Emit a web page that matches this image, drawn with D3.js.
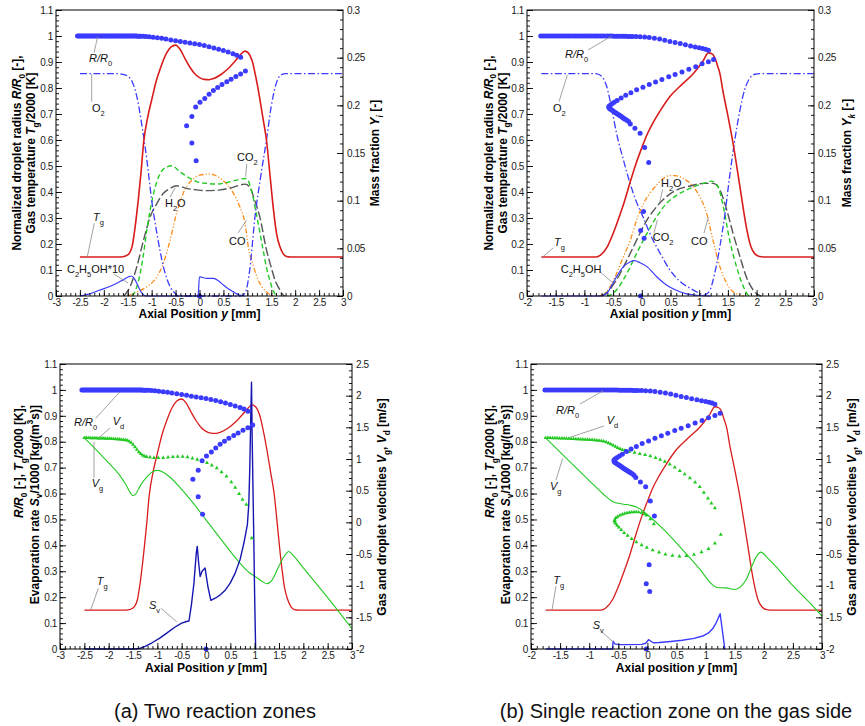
<!DOCTYPE html>
<html>
<head>
<meta charset="utf-8">
<script src="https://cdn.jsdelivr.net/npm/d3@7"></script>
<style>
  body { margin: 0; background: #fff; }
  svg { display: block; }
  text { font-family: "Liberation Sans", Arial, Helvetica, sans-serif; }
</style>
</head>
<body>
<svg id="fig" width="865" height="726"></svg>
<script>
// ---------- tick values and labels ----------
const xTicksA = [-3, -2.5, -2, -1.5, -1, -0.5, 0, 0.5, 1, 1.5, 2, 2.5, 3];
const xTickLabelsA = ["-3", "-2.5", "-2", "-1.5", "-1", "-0.5", "0", "0.5", "1", "1.5", "2", "2.5", "3"];
const xTicksB = [-2, -1.5, -1, -0.5, 0, 0.5, 1, 1.5, 2, 2.5, 3];
const xTickLabelsB = ["-2", "-1.5", "-1", "-0.5", "0", "0.5", "1", "1.5", "2", "2.5", "3"];
const leftTicks = [0, 0.1, 0.2, 0.3, 0.4, 0.5, 0.6, 0.7, 0.8, 0.9, 1, 1.1];
const leftTickLabels = ["0", "0.1", "0.2", "0.3", "0.4", "0.5", "0.6", "0.7", "0.8", "0.9", "1", "1.1"];
const massTicks = [0, 0.05, 0.1, 0.15, 0.2, 0.25, 0.3];
const massTickLabels = ["0", "0.05", "0.1", "0.15", "0.2", "0.25", "0.3"];
const velTicks = [-2, -1.5, -1, -0.5, 0, 0.5, 1, 1.5, 2, 2.5];
const velTickLabels = ["-2", "-1.5", "-1", "-0.5", "0", "0.5", "1", "1.5", "2", "2.5"];

// ---------- case (a): two reaction zones ----------
// gas temperature Tg/2000 [y mm, value]
const tgA = [[-2.5,0.15],[-1.7,0.15],[-1.6,0.151],[-1.5,0.158],[-1.41,0.19],[-1.35,0.26],[-1.28,0.37],[-1.22,0.48],[-1.17,0.587],[-1.08,0.69],[-1.0,0.754],[-0.9,0.83],[-0.81,0.88],[-0.7,0.93],[-0.6,0.957],[-0.5,0.965],[-0.4,0.947],[-0.3,0.912],[-0.2,0.88],[-0.1,0.855],[0,0.84],[0.1,0.833],[0.2,0.832],[0.3,0.837],[0.45,0.852],[0.6,0.875],[0.75,0.905],[0.85,0.927],[0.95,0.942],[1.02,0.935],[1.1,0.905],[1.18,0.84],[1.25,0.77],[1.33,0.68],[1.4,0.6],[1.47,0.472],[1.54,0.343],[1.61,0.241],[1.68,0.19],[1.75,0.162],[1.82,0.152],[1.9,0.15],[3,0.15]];
// mass fractions
const o2A = [[-2.5,0.2332],[-1.7,0.2332],[-1.6,0.2324],[-1.5,0.2305],[-1.41,0.225],[-1.31,0.2092],[-1.2,0.1775],[-1.1,0.1426],[-1.0,0.1006],[-0.89,0.0655],[-0.755,0.0308],[-0.615,0.0098],[-0.51,0.0027],[-0.45,0],[0.85,0],[0.95,0.0027],[1.05,0.0273],[1.16,0.0832],[1.28,0.1255],[1.4,0.1636],[1.5,0.1991],[1.6,0.2223],[1.7,0.2318],[1.8,0.2332],[3,0.2332]];
const ethA = [[-2.5,0],[-2.3,0.0022],[-2.08,0.0063],[-1.9,0.0095],[-1.73,0.0134],[-1.6,0.0169],[-1.48,0.0202],[-1.42,0.021],[-1.36,0.018],[-1.31,0.0134],[-1.25,0.0068],[-1.2,0.0027],[-1.12,0],[-0.03,0],[0.0,0.0202],[0.06,0.0194],[0.15,0.0185],[0.29,0.0185],[0.4,0.0158],[0.5,0.0115],[0.6,0.0076],[0.7,0.0046],[0.78,0.0022],[0.88,0.0005],[0.95,0]];
const co2A = [[-1.4,0],[-1.31,0.0098],[-1.2,0.0344],[-1.1,0.0693],[-0.96,0.1077],[-0.82,0.1287],[-0.68,0.1355],[-0.58,0.1366],[-0.41,0.1304],[-0.2,0.1235],[-0.06,0.12],[0.15,0.1181],[0.36,0.1175],[0.57,0.1189],[0.78,0.1216],[0.95,0.1233],[1.01,0.1216],[1.08,0.1118],[1.2,0.0832],[1.33,0.0483],[1.4,0.03],[1.47,0.0164],[1.53,0.0068],[1.58,0.0022],[1.62,0]];
const h2oA = [[-1.58,0],[-1.45,0.0098],[-1.31,0.0308],[-1.17,0.0586],[-1.03,0.0832],[-0.89,0.0971],[-0.755,0.1077],[-0.615,0.1129],[-0.48,0.1156],[-0.27,0.1129],[-0.06,0.1113],[0.15,0.1105],[0.43,0.1113],[0.7,0.114],[0.95,0.1173],[1.05,0.1145],[1.15,0.1009],[1.26,0.0832],[1.4,0.0483],[1.5,0.03],[1.58,0.0164],[1.66,0.0082],[1.72,0.0027],[1.78,0]];
const coA = [[-1.5,0],[-1.38,0.0027],[-1.1,0.0098],[-0.89,0.0202],[-0.755,0.0344],[-0.615,0.0586],[-0.48,0.0867],[-0.34,0.1077],[-0.16,0.1216],[0.01,0.1268],[0.22,0.1279],[0.43,0.1235],[0.71,0.1077],[0.85,0.0927],[0.95,0.0764],[1.02,0.0518],[1.13,0.0308],[1.26,0.0134],[1.4,0.0046],[1.5,0.0008],[1.55,0]];
// droplet radius R/R0 along the trajectory
const radA = [[-2.55,1],[-2.52,1],[-2.49,1],[-2.46,1],[-2.43,1],[-2.4,1],[-2.37,1],[-2.34,1],[-2.31,1],[-2.28,1],[-2.25,1],[-2.22,1],[-2.19,1],[-2.16,1],[-2.13,1],[-2.1,1],[-2.07,1],[-2.04,1],[-2.01,1],[-1.98,1],[-1.95,1],[-1.92,1],[-1.89,1],[-1.86,1],[-1.83,1],[-1.8,1],[-1.77,1],[-1.74,1],[-1.71,1],[-1.68,1],[-1.65,1],[-1.62,1],[-1.59,1],[-1.56,1],[-1.53,1],[-1.5,1],[-1.47,1],[-1.44,1],[-1.41,1],[-1.38,1],[-1.35,1],[-1.32,1],[-1.29,0.999],[-1.26,0.999],[-1.23,0.999],[-1.18,0.999],[-1.12,0.998],[-1.05,0.997],[-0.97,0.995],[-0.88,0.993],[-0.79,0.991],[-0.7,0.988],[-0.6,0.985],[-0.5,0.982],[-0.4,0.979],[-0.3,0.976],[-0.2,0.973],[-0.1,0.97],[0,0.967],[0.1,0.963],[0.2,0.959],[0.3,0.954],[0.4,0.949],[0.5,0.944],[0.6,0.938],[0.7,0.932],[0.78,0.926],[0.86,0.918],
  [0.96,0.865],[0.86,0.854],[0.76,0.844],[0.66,0.834],[0.57,0.824],[0.47,0.813],[0.38,0.802],[0.29,0.79],[0.2,0.776],[0.11,0.76],[0.01,0.745],[-0.08,0.727],[-0.16,0.69],[-0.27,0.655],[-0.16,0.588],[-0.07,0.52],[0,0]];
// droplet velocity Vd, gas velocity Vg [m/s], evaporation rate Sv/1000
const vdA = [[-2.5,1.335],[-2.46,1.334],[-2.42,1.333],[-2.38,1.332],[-2.34,1.331],[-2.3,1.33],[-2.26,1.329],[-2.22,1.328],[-2.18,1.327],[-2.14,1.326],[-2.1,1.325],[-2.06,1.324],[-2.02,1.323],[-1.98,1.322],[-1.94,1.32],[-1.9,1.318],[-1.86,1.316],[-1.82,1.314],[-1.78,1.311],[-1.74,1.308],[-1.7,1.304],[-1.66,1.3],[-1.62,1.293],[-1.58,1.28],[-1.54,1.258],[-1.5,1.228],[-1.46,1.19],[-1.42,1.148],[-1.38,1.11],[-1.34,1.08],[-1.3,1.058],[-1.26,1.043],[-1.22,1.034],[-1.15,1.027],[-1.07,1.02],[-0.98,1.017],[-0.88,1.02],[-0.78,1.028],[-0.68,1.035],[-0.58,1.04],[-0.48,1.038],[-0.38,1.03],[-0.28,1.012],[-0.18,0.99],[-0.08,0.967],[0.02,0.94],[0.12,0.9],[0.22,0.855],[0.32,0.795],[0.42,0.725],[0.52,0.635],[0.6,0.55],[0.68,0.45],[0.75,0.36],[0.83,0.28],[0.94,-0.25]];
const vgA = [[-2.5,1.333],[-2.25,1.14],[-2.0,0.937],[-1.8,0.77],[-1.65,0.6],[-1.55,0.46],[-1.5,0.42],[-1.45,0.44],[-1.35,0.58],[-1.2,0.73],[-1.1,0.8],[-1.0,0.82],[-0.9,0.8],[-0.75,0.72],[-0.5,0.52],[-0.25,0.29],[0,0.04],[0.25,-0.21],[0.5,-0.46],[0.75,-0.69],[0.9,-0.8],[1.0,-0.85],[1.15,-0.93],[1.25,-0.97],[1.35,-0.92],[1.5,-0.69],[1.62,-0.52],[1.7,-0.46],[1.8,-0.53],[2.0,-0.72],[2.5,-1.19],[3.0,-1.68]];
const svA = [[-2.5,0],[-1.45,0],[-1.35,0.003],[-1.25,0.01],[-1.1,0.025],[-0.95,0.042],[-0.8,0.062],[-0.65,0.083],[-0.5,0.1],[-0.4,0.106],[-0.35,0.108],[-0.3,0.17],[-0.25,0.25],[-0.2,0.37],[-0.18,0.396],[-0.15,0.33],[-0.12,0.28],[-0.08,0.3],[-0.02,0.313],[0.04,0.24],[0.1,0.188],[0.2,0.197],[0.3,0.21],[0.4,0.228],[0.5,0.255],[0.6,0.293],[0.7,0.345],[0.78,0.41],[0.85,0.48],[0.88,0.56],[0.9,0.7],[0.92,0.9],[0.935,1.03],[0.95,0.8],[0.98,0.45],[1.0,0.2],[1.02,0],[1.03,0]];

// ---------- case (b): single reaction zone on the gas side ----------
const tgB = [[-1.75,0.15],[-0.8,0.15],[-0.72,0.157],[-0.6,0.19],[-0.5,0.24],[-0.4,0.3],[-0.3,0.365],[-0.2,0.44],[-0.1,0.51],[0,0.57],[0.1,0.625],[0.2,0.668],[0.32,0.712],[0.49,0.767],[0.72,0.818],[0.9,0.856],[1.07,0.905],[1.16,0.935],[1.22,0.932],[1.27,0.918],[1.32,0.885],[1.36,0.856],[1.42,0.78],[1.48,0.715],[1.59,0.587],[1.71,0.42],[1.82,0.267],[1.9,0.19],[1.97,0.162],[2.05,0.152],[2.15,0.15],[3,0.15]];
const o2B = [[-1.75,0.2332],[-0.8,0.2332],[-0.7,0.2305],[-0.61,0.2195],[-0.52,0.195],[-0.44,0.1707],[-0.32,0.1426],[-0.2,0.1173],[-0.09,0.0982],[0.03,0.0818],[0.14,0.0657],[0.32,0.0447],[0.49,0.0273],[0.67,0.015],[0.84,0.0082],[1.01,0.0027],[1.08,0.0008],[1.13,0.0022],[1.19,0.0063],[1.27,0.0237],[1.36,0.0518],[1.45,0.0867],[1.53,0.1252],[1.62,0.1636],[1.71,0.195],[1.79,0.216],[1.88,0.2283],[1.97,0.2326],[2.05,0.2332],[3,0.2332]];
const ethB = [[-1.75,0],[-0.72,0],[-0.61,0.0027],[-0.52,0.0115],[-0.44,0.0202],[-0.32,0.0308],[-0.2,0.036],[-0.13,0.0371],[-0.03,0.0349],[0.09,0.0308],[0.26,0.0202],[0.43,0.0115],[0.61,0.0057],[0.78,0.0022],[0.96,0.0008],[1.2,0]];
const coB = [[-0.75,0],[-0.65,0.0027],[-0.55,0.0098],[-0.44,0.0237],[-0.32,0.0412],[-0.2,0.0586],[-0.09,0.0796],[0.03,0.0971],[0.14,0.1077],[0.26,0.1165],[0.38,0.1235],[0.49,0.1263],[0.58,0.1263],[0.72,0.1235],[0.9,0.1145],[1.01,0.1042],[1.13,0.0867],[1.24,0.0586],[1.36,0.0308],[1.48,0.0134],[1.59,0.0046],[1.71,0.0011],[1.78,0]];
const h2oB = [[-0.7,0],[-0.6,0.0041],[-0.44,0.0169],[-0.26,0.0376],[-0.09,0.0586],[0.09,0.0796],[0.26,0.0938],[0.43,0.1042],[0.61,0.1113],[0.84,0.1154],[1.07,0.1181],[1.24,0.1181],[1.36,0.1113],[1.48,0.0903],[1.59,0.0657],[1.71,0.0412],[1.82,0.0202],[1.94,0.0063],[2.03,0.0011],[2.08,0]];
const co2B = [[-0.6,0],[-0.5,0.0027],[-0.44,0.0063],[-0.26,0.0237],[-0.09,0.0447],[0.09,0.0657],[0.26,0.0832],[0.43,0.0971],[0.61,0.1058],[0.84,0.1129],[1.07,0.1181],[1.21,0.1205],[1.28,0.1186],[1.33,0.1145],[1.42,0.0938],[1.53,0.0586],[1.65,0.0308],[1.77,0.0098],[1.85,0.0011],[1.9,0]];
const radB = [[-1.76,1],[-1.72,1],[-1.68,1],[-1.64,1],[-1.6,1],[-1.56,1],[-1.52,1],[-1.48,1],[-1.44,1],[-1.4,1],[-1.36,1],[-1.32,1],[-1.28,1],[-1.24,1],[-1.2,1],[-1.16,1],[-1.12,1],[-1.08,1],[-1.04,1],[-1.0,1],[-0.96,1],[-0.92,1],[-0.88,1],[-0.84,1],[-0.8,1],[-0.76,1],[-0.72,1],[-0.68,1],[-0.64,1],[-0.6,1],[-0.56,1],[-0.52,1],[-0.48,0.999],[-0.44,0.999],[-0.4,0.999],[-0.36,0.999],[-0.32,0.999],[-0.28,0.999],[-0.24,0.998],[-0.2,0.998],[-0.16,0.998],[-0.1,0.998],[-0.03,0.997],[0.05,0.996],[0.13,0.994],[0.22,0.991],[0.31,0.988],[0.4,0.984],[0.49,0.979],[0.58,0.975],[0.67,0.971],[0.76,0.966],[0.85,0.962],[0.93,0.958],[1.0,0.955],[1.06,0.952],[1.11,0.949],[1.16,0.945],
  [1.25,0.91],[1.16,0.901],[1.05,0.893],[0.94,0.882],[0.82,0.872],[0.7,0.862],[0.58,0.852],[0.47,0.843],[0.35,0.833],[0.24,0.823],[0.13,0.813],[0.02,0.803],[-0.09,0.793],[-0.19,0.782],[-0.28,0.772],[-0.36,0.762],[-0.43,0.752],[-0.48,0.745],[-0.52,0.739],[-0.55,0.734],[-0.57,0.73],[-0.575,0.726],[-0.565,0.722],[-0.55,0.719],[-0.53,0.716],[-0.51,0.713],[-0.49,0.71],[-0.47,0.707],[-0.45,0.704],[-0.43,0.701],[-0.41,0.698],[-0.39,0.695],[-0.37,0.692],[-0.35,0.689],[-0.33,0.686],[-0.31,0.683],[-0.29,0.68],[-0.26,0.676],[-0.23,0.671],[-0.2,0.662],[-0.12,0.645],[-0.03,0.626],[0.05,0.571],[0.12,0.513],[0.03,0.325],[-0.02,0.252],[0.04,0.222],[-0.02,0]];
const vdB = [[-1.75,1.335],[-1.71,1.334],[-1.67,1.333],[-1.63,1.332],[-1.59,1.331],[-1.55,1.33],[-1.51,1.328],[-1.47,1.327],[-1.43,1.325],[-1.39,1.324],[-1.35,1.322],[-1.31,1.32],[-1.27,1.318],[-1.23,1.316],[-1.19,1.314],[-1.15,1.312],[-1.11,1.31],[-1.07,1.308],[-1.03,1.306],[-0.99,1.304],[-0.95,1.301],[-0.91,1.298],[-0.87,1.295],[-0.83,1.291],[-0.79,1.286],[-0.75,1.279],[-0.71,1.268],[-0.67,1.253],[-0.63,1.235],[-0.59,1.215],[-0.55,1.195],[-0.51,1.176],[-0.47,1.16],[-0.43,1.146],[-0.39,1.135],[-0.35,1.125],[-0.31,1.117],[-0.22,1.1],[-0.13,1.083],[-0.04,1.065],[0.05,1.045],[0.14,1.02],[0.22,0.99],[0.3,0.96],[0.385,0.915],[0.47,0.87],[0.557,0.815],[0.64,0.76],[0.73,0.7],[0.82,0.63],[0.9,0.56],[0.97,0.47],[1.04,0.38],[1.1,0.3],[1.16,0.226],
  [1.26,-0.195],[1.16,-0.33],[1.05,-0.42],[0.93,-0.47],[0.8,-0.51],[0.67,-0.53],[0.55,-0.535],[0.43,-0.525],[0.31,-0.505],[0.2,-0.475],[0.09,-0.44],[-0.01,-0.4],[-0.1,-0.36],[-0.19,-0.31],[-0.27,-0.26],[-0.34,-0.21],[-0.4,-0.165],[-0.45,-0.12],[-0.49,-0.08],[-0.52,-0.05],[-0.545,-0.02],[-0.56,0.005],[-0.565,0.025],[-0.56,0.045],[-0.54,0.07],[-0.51,0.09],[-0.47,0.11],[-0.43,0.125],[-0.39,0.138],[-0.35,0.148],[-0.31,0.155],[-0.27,0.16],[-0.23,0.163],[-0.19,0.164],[-0.15,0.16],[-0.1,0.15],[-0.05,0.13],[-0.015,0.11],[0.05,0.05],[0.11,-0.026]];
const vgB = [[-1.75,1.333],[-1.5,1.11],[-1.25,0.885],[-1.0,0.66],[-0.75,0.44],[-0.6,0.33],[-0.5,0.3],[-0.4,0.285],[-0.3,0.27],[-0.2,0.245],[-0.1,0.195],[0,0.12],[0.3,-0.13],[0.6,-0.43],[0.9,-0.74],[1.1,-0.97],[1.2,-1.03],[1.35,-1.035],[1.5,-1.06],[1.6,-1.02],[1.7,-0.9],[1.8,-0.68],[1.88,-0.53],[1.95,-0.47],[2.05,-0.55],[2.2,-0.69],[2.5,-1.0],[2.8,-1.28],[3.0,-1.48]];
const svB = [[-1.75,0],[-0.6,0],[-0.59,0.03],[-0.56,0.02],[-0.5,0.017],[-0.3,0.017],[-0.1,0.018],[-0.03,0.022],[0.0,0.03],[0.02,0.036],[0.06,0.03],[0.1,0.024],[0.2,0.025],[0.4,0.029],[0.6,0.034],[0.8,0.041],[0.95,0.05],[1.05,0.062],[1.12,0.078],[1.18,0.1],[1.25,0.136],[1.33,0],[1.34,0]];

// ---------- styles ----------
const C = {
  red: "#d81c1c", blue: "#3b3bff", navy: "#1616b0", green: "#22c922",
  gray: "#555555", orange: "#ff8c1a", lead: "#8a8a8a"
};
const DASH = { o2: "7,2.5,1.5,2.5", co2: "5,3", h2o: "9,3", co: "5,2,1.2,2,1.2,2" };

// ---------- text helper: italic / subscript / superscript runs ----------
function rich(sel, parts, size) {
  let shift = 0;
  parts.forEach(([t, f = ""]) => {
    const ts = sel.append("tspan").text(t);
    if (f.includes("i")) ts.attr("font-style", "italic");
    let target = 0;
    if (f.includes("b")) target = size * 0.32;
    if (f.includes("p")) target = -size * 0.42;
    ts.attr("dy", target - shift);
    if (target !== 0) ts.attr("font-size", size * 0.68);
    shift = target;
  });
}

const svg = d3.select("#fig");

function styleAxis(s) {
  s.select(".domain").remove();
  s.attr("font-family", '"Liberation Sans", Arial, sans-serif').attr("font-size", 10);
  s.selectAll("line").attr("stroke", "#000").attr("stroke-width", 0.9);
  s.selectAll("text").attr("fill", "#1a1a1a").attr("letter-spacing", "-0.4px");
}

function drawPanel(p) {
  const { x0, x1, y0, y1 } = p.frame;
  const g = svg.append("g");
  const x = d3.scaleLinear().domain(p.xDomain).range([x0, x1]);
  const yl = d3.scaleLinear().domain([0, 1.1]).range([y1, y0]);
  const yr = d3.scaleLinear().domain(p.rightDomain).range([y1, y0]);

  const clipId = "clip-" + p.id;
  g.append("clipPath").attr("id", clipId).append("rect")
    .attr("x", x0).attr("y", y0 - 3).attr("width", x1 - x0).attr("height", y1 - y0 + 6);
  const plot = g.append("g").attr("clip-path", `url(#${clipId})`);

  p.lines.forEach(s => {
    const y = s.axis === "right" ? yr : yl;
    const line = d3.line().x(d => x(d[0])).y(d => y(d[1]))
      .curve(s.sharp ? d3.curveLinear : d3.curveMonotoneX);
    plot.append("path").datum(s.data).attr("d", line)
      .attr("fill", "none").attr("stroke", s.color).attr("stroke-width", s.width)
      .attr("stroke-dasharray", s.dash || null).attr("stroke-linejoin", "round");
  });

  if (p.triangles) {
    const sym = d3.symbol().type(d3.symbolTriangle).size(p.triangles.size);
    plot.append("g").selectAll("path").data(p.triangles.data).join("path")
      .attr("d", sym)
      .attr("transform", d => `translate(${x(d[0])},${yr(d[1])})`)
      .attr("fill", p.triangles.color);
  }

  plot.append("g").selectAll("circle").data(p.dots.data).join("circle")
    .attr("cx", d => x(d[0])).attr("cy", d => yl(d[1]))
    .attr("r", p.dots.r).attr("fill", p.dots.color);

  // annotations with leader lines
  p.labels.forEach(l => {
    g.append("line").attr("x1", l.lead[0]).attr("y1", l.lead[1]).attr("x2", l.lead[2]).attr("y2", l.lead[3])
      .attr("stroke", C.lead).attr("stroke-width", 0.8);
    const t = g.append("text").attr("x", l.x).attr("y", l.y).attr("font-size", 11).attr("fill", "#111");
    rich(t, l.parts, 11);
  });

  // frame
  g.append("rect").attr("x", x0).attr("y", y0).attr("width", x1 - x0).attr("height", y1 - y0)
    .attr("fill", "none").attr("stroke", "#000").attr("stroke-width", 1);

  // axes: ticks point into the plot
  const lab = (vals, labels) => d => labels[vals.indexOf(d)];
  g.append("g").attr("transform", `translate(0,${y1})`)
    .call(d3.axisBottom(x).tickValues(p.xMinor).tickSize(-3).tickFormat("")).call(styleAxis);
  g.append("g").attr("transform", `translate(0,${y1})`)
    .call(d3.axisBottom(x).tickValues(p.xTicks).tickSize(-6).tickPadding(3).tickFormat(lab(p.xTicks, p.xLabels))).call(styleAxis);
  g.append("g").attr("transform", `translate(${x0},0)`)
    .call(d3.axisLeft(yl).tickValues(d3.range(0, 1.1001, 0.02)).tickSize(-3).tickFormat("")).call(styleAxis);
  g.append("g").attr("transform", `translate(${x0},0)`)
    .call(d3.axisLeft(yl).tickValues(leftTicks).tickSize(-6).tickPadding(3).tickFormat(lab(leftTicks, leftTickLabels))).call(styleAxis);
  g.append("g").attr("transform", `translate(${x1},0)`)
    .call(d3.axisRight(yr).tickValues(p.rightMinor).tickSize(-3).tickFormat("")).call(styleAxis);
  g.append("g").attr("transform", `translate(${x1},0)`)
    .call(d3.axisRight(yr).tickValues(p.rightTicks).tickSize(-6).tickPadding(4).tickFormat(lab(p.rightTicks, p.rightLabels))).call(styleAxis);

  // axis titles
  p.titles.forEach(tt => {
    const t = g.append("text")
      .attr("transform", `translate(${tt.x},${tt.y}) rotate(${tt.rot || 0})`)
      .attr("text-anchor", tt.anchor || "middle")
      .attr("font-size", 12).attr("font-weight", "bold").attr("fill", "#000");
    rich(t, tt.parts, 12);
  });
}

// ---------- panel descriptions ----------
const RR = [["R/R", "i"], ["0", "b"]];
const TG = [["T", "i"], ["g", "b"]];
const xTitleA = [["Axial Position "], ["y", "i"], [" [mm]"]];
const xTitleB = [["Axial position "], ["y", "i"], [" [mm]"]];
const leftTop1 = [["Normalized droplet radius "], ["R/R", "i"], ["0", "b"], [" [-],"]];
const leftTop2 = [["Gas temperature "], ["T", "i"], ["g", "b"], ["/2000 [K]"]];
const leftBot1 = [["R/R", "i"], ["0", "b"], [" [-], "], ["T", "i"], ["g", "b"], ["/2000 [K],"]];
const leftBot2 = [["Evaporation rate "], ["S", "i"], ["v", "b"], ["/1000 [kg/(m"], ["3", "p"], ["s)]"]];
const velTitle = [["Gas and droplet velocities "], ["V", "i"], ["g", "b"], [", "], ["V", "i"], ["d", "b"], [" [m/s]"]];

const speciesLines = (o2, eth, co2, h2o, co) => [
  { data: co, axis: "right", color: C.orange, width: 1.3, dash: DASH.co },
  { data: h2o, axis: "right", color: C.gray, width: 1.4, dash: DASH.h2o },
  { data: co2, axis: "right", color: C.green, width: 1.4, dash: DASH.co2 },
  { data: o2, axis: "right", color: C.blue, width: 1.3, dash: DASH.o2 },
  { data: eth, axis: "right", color: C.blue, width: 1.2 }
];

const panels = [
  {
    id: "a1", frame: { x0: 56, x1: 343, y0: 10, y1: 296 },
    xDomain: [-3, 3], xTicks: xTicksA, xLabels: xTickLabelsA, xMinor: d3.range(-3, 3.001, 0.1),
    rightDomain: [0, 0.3], rightTicks: massTicks, rightLabels: massTickLabels, rightMinor: d3.range(0, 0.3001, 0.01),
    lines: [...speciesLines(o2A, ethA, co2A, h2oA, coA), { data: tgA, axis: "left", color: C.red, width: 1.6 }],
    dots: { data: radA, r: 2.5, color: C.blue },
    labels: [
      { parts: RR, x: 89, y: 62, lead: [97.7, 36.7, 94, 52.7] },
      { parts: [["O"], ["2", "b"]], x: 92, y: 112, lead: [91.7, 74, 91.7, 101.7] },
      { parts: TG, x: 93, y: 221, lead: [94.3, 223.3, 87.3, 256.7] },
      { parts: [["C"], ["2", "b"], ["H"], ["5", "b"], ["OH*10"]], x: 67, y: 273, lead: [114, 274, 128, 283] },
      { parts: [["CO"], ["2", "b"]], x: 237, y: 161, lead: [246.7, 164, 245.7, 176.7] },
      { parts: [["H"], ["2", "b"], ["O"]], x: 165, y: 207, lead: [170, 197, 175, 188] },
      { parts: [["CO"]], x: 229, y: 245, lead: [238, 233, 246.7, 220] }
    ],
    titles: [
      { parts: leftTop1, x: 21, y: 153, rot: -90 },
      { parts: leftTop2, x: 35, y: 153, rot: -90 },
      { parts: [["Mass fraction "], ["Y", "i"], ["i", "ib"], [" [-]"]], x: 379, y: 153, rot: -90 },
      { parts: xTitleA, x: 199.5, y: 318 }
    ]
  },
  {
    id: "b1", frame: { x0: 527, x1: 814, y0: 10, y1: 296 },
    xDomain: [-2, 3], xTicks: xTicksB, xLabels: xTickLabelsB, xMinor: d3.range(-2, 3.001, 0.1),
    rightDomain: [0, 0.3], rightTicks: massTicks, rightLabels: massTickLabels, rightMinor: d3.range(0, 0.3001, 0.01),
    lines: [...speciesLines(o2B, ethB, co2B, h2oB, coB), { data: tgB, axis: "left", color: C.red, width: 1.6 }],
    dots: { data: radB, r: 2.5, color: C.blue },
    labels: [
      { parts: RR, x: 565, y: 58, lead: [588, 50, 611.7, 36] },
      { parts: [["O"], ["2", "b"]], x: 553, y: 112, lead: [559, 101.7, 567.3, 75] },
      { parts: TG, x: 554, y: 246, lead: [553, 248, 543, 256.7] },
      { parts: [["C"], ["2", "b"], ["H"], ["5", "b"], ["OH"]], x: 560.7, y: 273, lead: [600, 271.7, 612.7, 282.7] },
      { parts: [["H"], ["2", "b"], ["O"]], x: 661, y: 187, lead: [662.7, 189.3, 659.3, 204] },
      { parts: [["CO"], ["2", "b"]], x: 652.7, y: 241, lead: [654, 233, 657.3, 220] },
      { parts: [["CO"]], x: 691, y: 245, lead: [704, 233, 708.3, 217.3] }
    ],
    titles: [
      { parts: leftTop1, x: 492.5, y: 153, rot: -90 },
      { parts: leftTop2, x: 506.5, y: 153, rot: -90 },
      { parts: [["Mass fraction "], ["Y", "i"], ["k", "ib"], [" [-]"]], x: 851, y: 153, rot: -90 },
      { parts: xTitleB, x: 670.5, y: 318 }
    ]
  },
  {
    id: "a2", frame: { x0: 60, x1: 352, y0: 364, y1: 649 },
    xDomain: [-3, 3], xTicks: xTicksA, xLabels: xTickLabelsA, xMinor: d3.range(-3, 3.001, 0.1),
    rightDomain: [-2, 2.5], rightTicks: velTicks, rightLabels: velTickLabels, rightMinor: d3.range(-2, 2.5001, 0.1),
    lines: [
      { data: tgA, axis: "left", color: C.red, width: 1.3 },
      { data: vgA, axis: "right", color: C.green, width: 1.1 },
      { data: svA, axis: "left", color: C.navy, width: 1.4, sharp: true }
    ],
    triangles: { data: vdA, size: 7, color: C.green },
    dots: { data: radA, r: 2.5, color: C.blue },
    labels: [
      { parts: RR, x: 74, y: 426, lead: [95.7, 418.3, 120, 391.7] },
      { parts: [["V", "i"], ["d", "b"]], x: 112.7, y: 425, lead: [110, 428, 99.3, 437.3] },
      { parts: [["V", "i"], ["g", "b"]], x: 91.7, y: 487, lead: [94, 477.7, 94, 441.7] },
      { parts: TG, x: 96.7, y: 585, lead: [98.3, 588.3, 90.7, 610] },
      { parts: [["S", "i"], ["v", "b"]], x: 149, y: 609, lead: [161, 608.3, 176.7, 621.7] }
    ],
    titles: [
      { parts: leftBot1, x: 23, y: 405, rot: -90, anchor: "end" },
      { parts: leftBot2, x: 38.5, y: 405, rot: -90, anchor: "end" },
      { parts: velTitle, x: 386, y: 507, rot: -90 },
      { parts: xTitleA, x: 206, y: 672 }
    ]
  },
  {
    id: "b2", frame: { x0: 531, x1: 822, y0: 364, y1: 649 },
    xDomain: [-2, 3], xTicks: xTicksB, xLabels: xTickLabelsB, xMinor: d3.range(-2, 3.001, 0.1),
    rightDomain: [-2, 2.5], rightTicks: velTicks, rightLabels: velTickLabels, rightMinor: d3.range(-2, 2.5001, 0.1),
    lines: [
      { data: tgB, axis: "left", color: C.red, width: 1.3 },
      { data: vgB, axis: "right", color: C.green, width: 1.1 },
      { data: svB, axis: "left", color: C.blue, width: 1.4, sharp: true }
    ],
    triangles: { data: vdB, size: 7, color: C.green },
    dots: { data: radB, r: 2.5, color: C.blue },
    labels: [
      { parts: RR, x: 556, y: 414, lead: [580, 404, 603.3, 390.7] },
      { parts: [["V", "i"], ["d", "b"]], x: 606.7, y: 424, lead: [604, 426, 570, 437.3] },
      { parts: [["V", "i"], ["g", "b"]], x: 550, y: 490, lead: [556, 480, 562.7, 458.3] },
      { parts: TG, x: 553.3, y: 584, lead: [556, 586, 552, 610] },
      { parts: [["S", "i"], ["v", "b"]], x: 592.7, y: 629, lead: [601.7, 631.7, 614, 642.7] }
    ],
    titles: [
      { parts: leftBot1, x: 494, y: 405, rot: -90, anchor: "end" },
      { parts: leftBot2, x: 509.5, y: 405, rot: -90, anchor: "end" },
      { parts: velTitle, x: 856, y: 507, rot: -90 },
      { parts: xTitleB, x: 676.5, y: 672 }
    ]
  }
];

panels.forEach(drawPanel);

// sub-figure captions
[["(a) Two reaction zones", 215], ["(b) Single reaction zone on the gas side", 676]].forEach(([txt, cx]) => {
  svg.append("text").attr("x", cx).attr("y", 718).attr("text-anchor", "middle")
    .attr("font-size", 20).attr("fill", "#111").text(txt);
});
</script>
</body>
</html>
